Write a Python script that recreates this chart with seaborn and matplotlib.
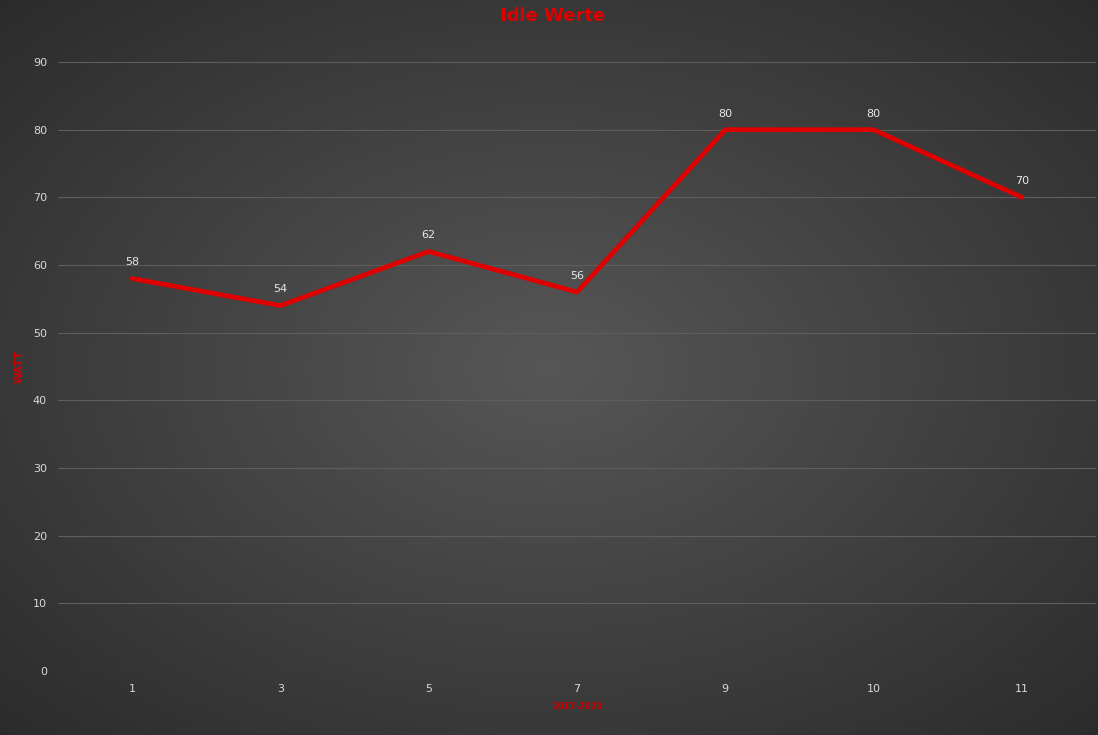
import numpy as np
import pandas as pd
import seaborn as sns
import matplotlib.pyplot as plt

# Daten
kategorien = ["1", "3", "5", "7", "9", "10", "11"]
watt = [58, 54, 62, 56, 80, 80, 70]
y_ticks = [0, 10, 20, 30, 40, 50, 60, 70, 80, 90]

titel = "Idle Werte"
x_label = "2017-2023"
y_label = "WATT"

df = pd.DataFrame({"kategorie": kategorien, "watt": watt})

sns.set_theme(style="dark")
plt.rcParams["font.family"] = ["DejaVu Sans"]

fig = plt.figure(figsize=(10.98, 7.35), dpi=100)

# radialer Verlauf als Hintergrund (RGB direkt, keine Stufen)
bg = fig.add_axes([0, 0, 1, 1], zorder=0)
yy, xx = np.mgrid[0:735, 0:1098]
r = np.sqrt(((xx - 549) / 549) ** 2 + ((yy - 367) / 367) ** 2) / np.sqrt(2)
grau = 0.34 - 0.17 * r
bg.imshow(np.dstack([grau, grau, grau]), aspect="auto", interpolation="bilinear")
bg.axis("off")

ax = fig.add_axes([58 / 1098, 1 - 671 / 735, (1096 - 58) / 1098, (671 - 62) / 735], zorder=1)
ax.set_facecolor("none")

sns.lineplot(data=df, x="kategorie", y="watt", ax=ax, color="#e00000",
             linewidth=3.4, sort=False, zorder=3)

for i, v in enumerate(watt):
    ax.annotate(str(v), (i, v), xytext=(0, 8), textcoords="offset points",
                ha="center", va="bottom", color="#e8e8e8", fontsize=8)

ax.set_xlim(-0.5, len(kategorien) - 0.5)
ax.set_ylim(0, 90)
ax.set_yticks(y_ticks)
ax.grid(axis="y", color="#5e5e5e", linewidth=0.8)
ax.grid(axis="x", visible=False)
for s in ax.spines.values():
    s.set_visible(False)
ax.tick_params(axis="y", colors="#d9d9d9", labelsize=8, length=0, pad=8)
ax.tick_params(axis="x", colors="#d9d9d9", labelsize=8, length=0, pad=9)

ax.set_xlabel(x_label, color="#d00000", fontsize=6, fontweight="bold", labelpad=6)
ax.set_ylabel(y_label, color="#d00000", fontsize=7.5, fontweight="bold")
ax.yaxis.set_label_coords(-33 / 1038, 0.5)

fig.text(0.503, 0.978, titel, ha="center", va="center", color="#e00000",
         fontsize=13, fontweight="bold")

fig.savefig("out.png", dpi=100)
